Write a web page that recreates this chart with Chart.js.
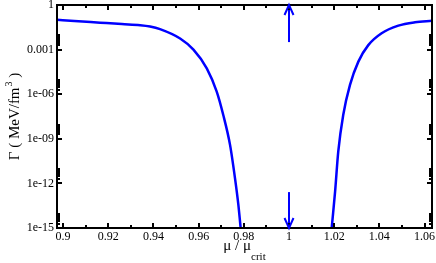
<!DOCTYPE html>
<html>
<head>
<meta charset="utf-8">
<script src="https://cdn.jsdelivr.net/npm/chart.js@4"></script>
<style>
  html, body { margin: 0; padding: 0; background: #fff; }
  #wrap { width: 436px; height: 263px; }
</style>
</head>
<body>
<div id="wrap"><canvas id="chart" width="436" height="263"></canvas></div>
<script>
// left branch (mu/mu_crit below 1)
const leftMu = [0.8973, 0.905, 0.9164, 0.926, 0.9341, 0.9385, 0.9429, 0.9518, 0.9577, 0.9636, 0.968, 0.9709, 0.9739, 0.9761, 0.9776, 0.9786, 0.9791];
const leftGamma = [0.1, 0.085, 0.065, 0.052, 0.044, 0.036, 0.024, 5.6e-3, 1e-3, 5.5e-5, 1.5e-6, 4e-8, 3.9e-10, 2.2e-12, 3.5e-14, 1e-15, 2e-16];
// right branch (mu/mu_crit above 1)
const rightMu = [1.0185, 1.0189, 1.0204, 1.0218, 1.024, 1.027, 1.0307, 1.0351, 1.041, 1.0484, 1.0558, 1.0633];
const rightGamma = [2e-16, 1e-15, 2.8e-13, 1.35e-10, 4e-8, 4.2e-6, 1.55e-4, 2e-3, 0.0126, 0.041, 0.069, 0.087];
// arrows at mu = mu_crit
const arrowMu = [1, 1];
const arrowUpGamma = [3.2e-3, 1];
const arrowDownGamma = [2.6e-13, 1e-15];

const xTickValues = [0.9, 0.92, 0.94, 0.96, 0.98, 1, 1.02, 1.04, 1.06];
const xTickLabels = ['0.9', '0.92', '0.94', '0.96', '0.98', '1', '1.02', '1.04', '1.06'];
const yTickValues = [1, 1e-3, 1e-6, 1e-9, 1e-12, 1e-15];
const yTickLabels = ['1', '0.001', '1e-06', '1e-09', '1e-12', '1e-15'];

const xMin = 0.8973, xMax = 1.0633;
const blue = '#0000ff';
const serif = '"Liberation Serif", "DejaVu Serif", serif';

function pts(xs, ys) {
    return xs.map((v, i) => ({ x: v, y: ys[i] }));
}

const frameTicks = {
    id: 'frameTicks',
    afterDraw(chart) {
        const { ctx, chartArea: a, scales: { x, y } } = chart;
        ctx.save();
        ctx.strokeStyle = '#000';
        ctx.lineWidth = 2;
        ctx.strokeRect(a.left, a.top, a.right - a.left, a.bottom - a.top);

        const xt = (v, len) => {
            const px = Math.round(x.getPixelForValue(v));
            ctx.moveTo(px, a.bottom); ctx.lineTo(px, a.bottom - len);
            ctx.moveTo(px, a.top); ctx.lineTo(px, a.top + len);
        };
        const yt = (v, len) => {
            const py = Math.round(y.getPixelForValue(v));
            ctx.moveTo(a.left, py); ctx.lineTo(a.left + len, py);
            ctx.moveTo(a.right, py); ctx.lineTo(a.right - len, py);
        };
        ctx.beginPath();
        xTickValues.forEach(v => {
            xt(v, 5);
            if (v + 0.01 < xMax) xt(v + 0.01, 3);
        });
        yTickValues.forEach(v => {
            yt(v, 5);
            if (v < 1) for (let k = 2; k <= 9; k++) yt(v * k, 3);
        });
        ctx.stroke();

        // arrow heads
        ctx.strokeStyle = blue;
        ctx.lineWidth = 2;
        const ax = x.getPixelForValue(1);
        const up = y.getPixelForValue(1), dn = y.getPixelForValue(1e-15);
        ctx.beginPath();
        ctx.moveTo(ax - 4.5, up + 10); ctx.lineTo(ax, up); ctx.lineTo(ax + 4.5, up + 10);
        ctx.moveTo(ax - 4.5, dn - 10); ctx.lineTo(ax, dn); ctx.lineTo(ax + 4.5, dn - 10);
        ctx.stroke();

        // axis titles
        ctx.fillStyle = '#000';
        ctx.textBaseline = 'alphabetic';
        ctx.textAlign = 'left';
        const cx = (a.left + a.right) / 2;
        ctx.font = '15px ' + serif;
        const m1 = 'μ / μ';
        const w1 = ctx.measureText(m1).width;
        ctx.font = '11px ' + serif;
        const w2 = ctx.measureText('crit').width;
        let sx = cx - (w1 + w2) / 2;
        ctx.font = '15px ' + serif;
        ctx.fillText(m1, sx, 250);
        ctx.font = '11px ' + serif;
        ctx.fillText('crit', sx + w1, 260);

        ctx.translate(19, (a.top + a.bottom) / 2);
        ctx.rotate(-Math.PI / 2);
        ctx.font = '15px ' + serif;
        const p1 = 'Γ ( MeV/fm', p3 = ' )';
        const q1 = ctx.measureText(p1).width, q3 = ctx.measureText(p3).width;
        ctx.font = '10px ' + serif;
        const q2 = ctx.measureText('3').width + 1;
        let tx = -(q1 + q2 + q3) / 2;
        ctx.font = '15px ' + serif;
        ctx.fillText(p1, tx, 0);
        ctx.font = '10px ' + serif;
        ctx.fillText('3', tx + q1 + 1, -7);
        ctx.font = '15px ' + serif;
        ctx.fillText(p3, tx + q1 + q2, 0);
        ctx.restore();
    }
};

document.addEventListener('DOMContentLoaded', () => {
    const ctx = document.getElementById('chart').getContext('2d');
    const line = (data, w) => ({
        data: data,
        borderColor: blue,
        borderWidth: w,
        pointRadius: 0,
        showLine: true,
        fill: false,
        cubicInterpolationMode: 'monotone'
    });
    new Chart(ctx, {
        type: 'scatter',
        data: {
            datasets: [
                line(pts(leftMu, leftGamma), 2.5),
                line(pts(rightMu, rightGamma), 2.5),
                line(pts(arrowMu, arrowUpGamma), 2),
                line(pts(arrowMu, arrowDownGamma), 2)
            ]
        },
        options: {
            responsive: false,
            animation: false,
            layout: { padding: { top: 5, right: 4, left: 0, bottom: 0 } },
            plugins: { legend: { display: false }, tooltip: { enabled: false } },
            scales: {
                x: {
                    type: 'linear',
                    min: xMin,
                    max: xMax,
                    grid: { display: false, drawTicks: false },
                    border: { display: false },
                    afterBuildTicks: s => { s.ticks = xTickValues.map(v => ({ value: v })); },
                    afterFit: s => { s.height = 35; s.paddingLeft = 0; s.paddingRight = 0; },
                    ticks: {
                        autoSkip: false,
                        maxRotation: 0,
                        padding: 2,
                        color: '#000',
                        font: { family: serif, size: 12 },
                        callback: (v, i) => xTickLabels[i]
                    }
                },
                y: {
                    type: 'logarithmic',
                    min: 1e-15,
                    max: 1,
                    grid: { display: false, drawTicks: false },
                    border: { display: false },
                    afterBuildTicks: s => { s.ticks = yTickValues.map(v => ({ value: v })); },
                    afterFit: s => { s.width = 57; s.paddingTop = 0; s.paddingBottom = 0; },
                    ticks: {
                        autoSkip: false,
                        padding: 3,
                        color: '#000',
                        font: { family: serif, size: 12 },
                        callback: (v, i) => yTickLabels[i]
                    }
                }
            }
        },
        plugins: [frameTicks]
    });
});
</script>
</body>
</html>
